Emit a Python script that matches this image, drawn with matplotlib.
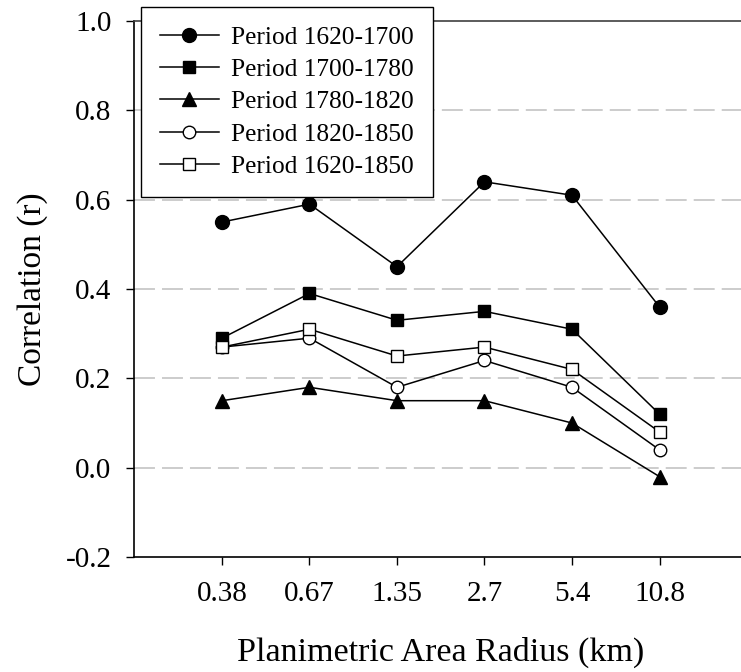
import numpy as np
import matplotlib.pyplot as plt

plt.rcParams['font.family'] = ['Liberation Serif', 'DejaVu Serif']

radius = ['0.38', '0.67', '1.35', '2.7', '5.4', '10.8']
p1620_1700 = [0.55, 0.59, 0.45, 0.64, 0.61, 0.36]
p1700_1780 = [0.29, 0.39, 0.33, 0.35, 0.31, 0.12]
p1780_1820 = [0.15, 0.18, 0.15, 0.15, 0.10, -0.02]
p1820_1850 = [0.27, 0.29, 0.18, 0.24, 0.18, 0.04]
p1620_1850 = [0.27, 0.31, 0.25, 0.27, 0.22, 0.08]

x = np.arange(1, len(radius) + 1)

fig = plt.figure(figsize=(7.41, 6.72), dpi=100)
# right part of the frame runs past the image edge, like the original crop
ax = fig.add_axes([0.1815, 0.1711, 0.8266, 0.7976])

for yv in [0.0, 0.2, 0.4, 0.6, 0.8]:
    ax.axhline(yv, color='#c8c8c8', lw=1.3, dashes=(11.6, 3.9), zorder=0)

ax.plot(x, p1620_1700, '-o', color='black', lw=1.1, ms=10, mfc='black', label='Period 1620-1700')
ax.plot(x, p1700_1780, '-s', color='black', lw=1.1, ms=9, mfc='black', label='Period 1700-1780')
ax.plot(x, p1780_1820, '-^', color='black', lw=1.1, ms=10, mfc='black', label='Period 1780-1820')
ax.plot(x, p1820_1850, '-o', color='black', lw=1.1, ms=9, mfc='white', mew=1.0, label='Period 1820-1850')
ax.plot(x, p1620_1850, '-s', color='black', lw=1.1, ms=8.5, mfc='white', mew=1.0, label='Period 1620-1850')

ax.set_xlim(0, 7)
ax.set_ylim(-0.2, 1.0)
ax.set_xticks(x)
ax.set_xticklabels(radius)
ax.set_yticks([-0.2, 0.0, 0.2, 0.4, 0.6, 0.8, 1.0])
ax.set_yticklabels(['-0.2', '0.0', '0.2', '0.4', '0.6', '0.8', '1.0'])
ax.tick_params(direction='out', length=5.5, width=1.0, labelsize=21, colors='black')
ax.tick_params(axis='y', pad=11)
ax.tick_params(axis='x', pad=12)

for s in ['left', 'bottom', 'top']:
    ax.spines[s].set_linewidth(1.2)
ax.spines['top'].set_color('#404040')
ax.spines['right'].set_visible(False)

ax.set_xlabel('Planimetric Area Radius (km)', fontsize=24.5, labelpad=21)
ax.set_ylabel('Correlation (r)', fontsize=24, labelpad=13)

leg = ax.legend(loc='upper left', bbox_to_anchor=(0.0106, 1.026), borderaxespad=0,
                fontsize=18.3, frameon=True, fancybox=False, edgecolor='black',
                framealpha=1, handlelength=2.3, labelspacing=0.37, borderpad=0.75,
                handletextpad=0.5)
leg.get_frame().set_linewidth(1.0)
leg.set_zorder(5)

fig.savefig('out.png', dpi=100)
